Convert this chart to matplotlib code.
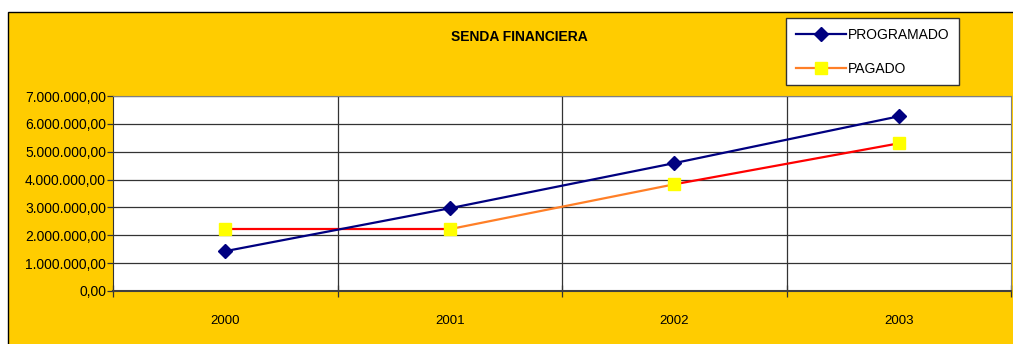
import matplotlib
matplotlib.use("Agg")
import matplotlib.pyplot as plt
from matplotlib.lines import Line2D
from matplotlib.patches import Rectangle
from matplotlib.ticker import FuncFormatter, FixedLocator

years = ["2000", "2001", "2002", "2003"]
programado = [1430000, 2970000, 4590000, 6270000]
pagado = [2220000, 2220000, 3830000, 5300000]
pagado_seg_colors = ["#FF0000", "#FF7F27", "#FF0000"]

YELLOW = "#FFCC00"
NAVY = "#000080"
FONT = ["Liberation Sans Narrow", "Liberation Sans", "DejaVu Sans"]

plt.rcParams["font.family"] = FONT

fig = plt.figure(figsize=(10.13, 3.44), dpi=100)
fig.patch.set_facecolor("white")

# chart area background
bg = Rectangle((8 / 1013, -0.01), 1.0, 0.965 + 0.01,
               transform=fig.transFigure, facecolor=YELLOW,
               edgecolor="black", linewidth=1.0, zorder=-10)
fig.add_artist(bg)

ax = fig.add_axes([113 / 1013, 53 / 344, 898 / 1013, 195 / 344])
ax.set_facecolor("white")

x = list(range(len(years)))

# PAGADO drawn segment by segment
for i, c in enumerate(pagado_seg_colors):
    ax.plot(x[i:i + 2], pagado[i:i + 2], color=c, linewidth=1.6, zorder=3)
ax.plot(x, pagado, linestyle="none", marker="s", markersize=8,
        markerfacecolor="#FFFF00", markeredgecolor="#FFFF00", zorder=4)

ax.plot(x, programado, color=NAVY, linewidth=1.6, marker="D", markersize=7,
        markerfacecolor=NAVY, markeredgecolor=NAVY, zorder=5)

ax.set_xlim(-0.5, len(years) - 0.5)
ax.set_ylim(0, 7000000)
ax.yaxis.set_major_locator(FixedLocator([i * 1000000 for i in range(8)]))


def es_fmt(v, pos):
    s = f"{v:,.2f}"
    return s.replace(",", "X").replace(".", ",").replace("X", ".")


ax.yaxis.set_major_formatter(FuncFormatter(es_fmt))
ax.grid(axis="y", color="#333333", linewidth=0.9)

bounds = [i - 0.5 for i in range(len(years) + 1)]
ax.set_xticks(bounds)
ax.set_xticklabels([])
ax.set_xticks(x, minor=True)
ax.set_xticklabels(years, minor=True)
for b in bounds[1:-1]:
    ax.axvline(b, color="#333333", linewidth=0.9, zorder=1)
ax.set_axisbelow(True)

ax.tick_params(axis="x", which="major", direction="inout", length=8, width=0.9, color="#333333")
ax.tick_params(axis="x", which="minor", length=0, pad=17, labelsize=9.5)
ax.tick_params(axis="y", direction="out", length=4, width=0.9, color="#333333",
               labelsize=10, pad=1)

for side in ["top", "right"]:
    ax.spines[side].set_color("#808080")
ax.spines["left"].set_color("#333333")
ax.spines["bottom"].set_color("#404040")
ax.spines["bottom"].set_linewidth(1.5)

fig.text(0.513, 0.893, "SENDA FINANCIERA", ha="center", va="center",
         fontsize=10, fontweight="bold")

handles = [
    Line2D([], [], color=NAVY, linewidth=1.6, marker="D", markersize=7,
           markerfacecolor=NAVY, markeredgecolor=NAVY),
    Line2D([], [], color="#FF7F27", linewidth=1.6, marker="s", markersize=8,
           markerfacecolor="#FFFF00", markeredgecolor="#FFFF00"),
]
leg = fig.legend(handles, ["PROGRAMADO", "PAGADO"], loc="upper left",
                 bbox_to_anchor=(786 / 1013, 0.948), fontsize=10,
                 frameon=True, fancybox=False, handlelength=3.6,
                 handletextpad=0.15, labelspacing=1.45, borderpad=0.7,
                 borderaxespad=0)
leg._legend_box.align = "left"
leg.get_frame().set_edgecolor("#333333")
leg.get_frame().set_linewidth(1.0)
leg.get_frame().set_facecolor("white")
leg.get_frame().set_alpha(1)

fig.savefig("out.png", dpi=100)
